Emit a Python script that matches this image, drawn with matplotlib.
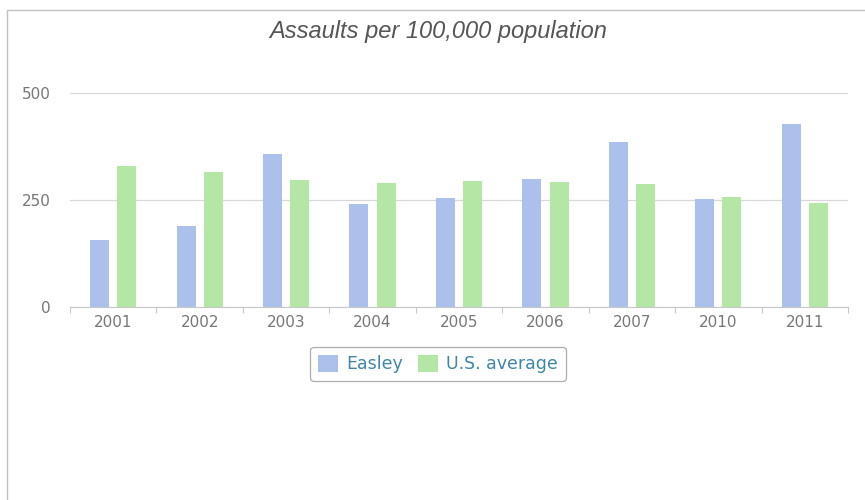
import numpy as np
import matplotlib
matplotlib.use('Agg')
import matplotlib.pyplot as plt
from matplotlib.patches import Rectangle

# data
years = ['2001', '2002', '2003', '2004', '2005', '2006', '2007', '2010', '2011']
easley = [157, 190, 357, 241, 254, 299, 386, 252, 428]
us_avg = [328, 315, 297, 289, 293, 292, 288, 256, 242]
y_ticks = [0, 250, 500]

c_easley = '#abc1ec'
c_us = '#b4e6a6'
txt_gray = '#777777'

fig = plt.figure(figsize=(8.65, 5.0), dpi=100)
ax = fig.add_axes([70/865, 1-307/500, (848-70)/865, (307-92.7)/500])

x = np.arange(len(years))
w = 0.22
ax.bar(x - 0.157, easley, width=w, color=c_easley, label='Easley', zorder=3)
ax.bar(x + 0.157, us_avg, width=w, color=c_us, label='U.S. average', zorder=3)

ax.set_xlim(-0.5, len(years) - 0.5)
ax.set_ylim(0, 500)
ax.set_yticks(y_ticks)
ax.set_yticklabels([str(v) for v in y_ticks], color=txt_gray, fontsize=11)
ax.tick_params(axis='y', length=0, pad=14)

# category labels, with small ticks at the category boundaries
ax.set_xticks(x)
ax.set_xticklabels(years, color=txt_gray, fontsize=11)
ax.set_xticks(np.arange(-0.5, len(years)), minor=True)
ax.tick_params(axis='x', which='major', length=0, pad=6)
ax.tick_params(axis='x', which='minor', length=4, color='#c8c8c8', width=0.8)

for s in ['top', 'right', 'left']:
    ax.spines[s].set_visible(False)
ax.spines['bottom'].set_color('#c8c8c8')
ax.spines['bottom'].set_zorder(4)
ax.grid(axis='y', color='#d8d8d8', linewidth=0.9, zorder=0)
ax.set_axisbelow(True)

fig.text(0.507, 0.937, 'Assaults per 100,000 population', ha='center', va='center',
         fontsize=17, style='italic', color='#555555', family='Liberation Sans')

leg = ax.legend(loc='upper center', bbox_to_anchor=(0.473, -0.145), ncol=2,
                frameon=True, fontsize=12.5, handlelength=1.15, handleheight=1.15,
                columnspacing=0.9, handletextpad=0.45, borderpad=0.45, fancybox=True)
leg.get_frame().set_edgecolor('#9a9a9a')
leg.get_frame().set_linewidth(0.9)
for t in leg.get_texts():
    t.set_color('#3f86a6')

# light frame round the whole chart
fig.patches.append(Rectangle((7/865, -0.1), 1.1, 1 - 10/500 + 0.1, transform=fig.transFigure,
                             fill=False, edgecolor='#c0c0c0', linewidth=1.0))

fig.savefig('out.png', dpi=100, facecolor='white')
